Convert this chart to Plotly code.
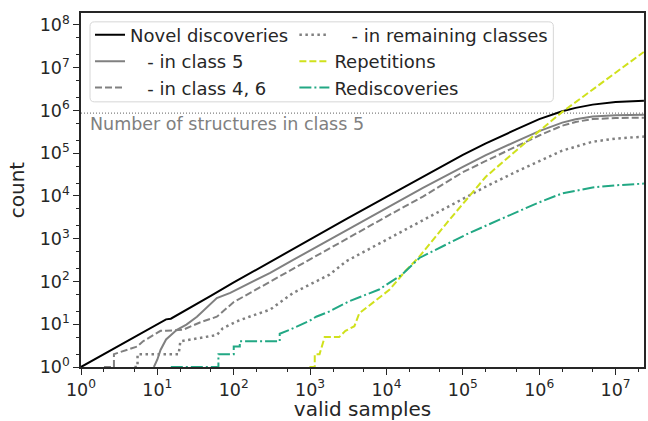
import math
import plotly.graph_objects as go

# ---------------- data ----------------
novel_x = [1, 2, 5, 10, 13, 15, 20, 50, 100, 300, 1000, 3000, 10000, 30000, 100000,
           200000, 300000, 500000, 1000000, 2000000, 3000000, 5000000, 10000000, 23500000]
novel_y = [1, 2, 5, 10, 13, 13.5, 18, 46, 95, 290, 960, 2900, 9500, 28500, 92000,
           170000, 240000, 360000, 630000, 960000, 1150000, 1370000, 1570000, 1700000]

c5_x = [9, 10, 11, 13, 18, 24, 33, 45, 60, 90, 160, 300, 600, 1000, 3000, 10000, 30000,
        100000, 200000, 500000, 1000000, 2000000, 3000000, 5000000, 10000000, 23500000]
c5_y = [1, 1.5, 2.5, 4.4, 7.4, 9.8, 15, 26, 41, 54, 91, 160, 320, 530, 1600, 5300, 15500,
        48000, 90000, 190000, 330000, 520000, 620000, 720000, 775000, 790000]

c46_x = [2, 2.7, 2.7, 5.4, 6.5, 8, 11, 13, 22, 36, 60, 100, 300, 1000, 3000, 10000, 30000,
         100000, 200000, 500000, 1000000, 2000000, 3000000, 5000000, 10000000, 23500000]
c46_y = [1, 1, 2, 3, 4, 5, 7, 7, 7.5, 11, 15, 33, 100, 330, 1000, 3300, 9700,
         36000, 66000, 145000, 260000, 440000, 540000, 630000, 665000, 680000]

rem_x = [5, 5.5, 5.5, 19, 20, 36, 60, 72, 110, 160, 300, 600, 1800, 3000, 10000, 30000,
         100000, 200000, 500000, 1000000, 2000000, 5000000, 10000000, 23500000]
rem_y = [1, 1, 2, 2, 4, 4.8, 5.6, 8.1, 11.7, 15, 22, 54, 145, 300, 950, 2700,
         8900, 16600, 37000, 66000, 115000, 186000, 220000, 245000]

rep_x = [980, 1150, 1150, 1330, 1550, 2400, 2900, 3800, 4400, 6600, 11000, 17800, 26900,
         72400, 200000, 724000, 1950000, 7240000, 23400000]
rep_y = [1, 1, 2, 2, 5, 5, 7, 9, 18, 31.6, 64.6, 178, 380,
         3310, 28200, 204000, 890000, 5000000, 23400000]

red_x = [15, 63, 63, 100, 100, 120, 120, 400, 400, 540, 980, 1200, 1800, 3200, 8000,
         16000, 27000, 120000, 540000, 1000000, 2000000, 5000000, 10000000, 23500000]
red_y = [1, 1, 2, 2, 3, 3, 4, 4, 6, 7.4, 12, 15, 20, 34, 65,
         145, 355, 1350, 4400, 7100, 11500, 15800, 17800, 19500]

class5_total = 870000

x_tickvals = [1, 10, 100, 1000, 10000, 100000, 1000000, 10000000]
x_ticktext = ["10<sup>%d</sup>" % i for i in range(8)]
y_tickvals = [10 ** i for i in range(9)]
y_ticktext = ["10<sup>%d</sup>" % i for i in range(9)]

GRAY = "#808080"
YEL = "#d0e11c"
GRN = "#22a884"
INK = "#262626"
NB = "\u00a0"

fig = go.Figure()

fig.add_trace(go.Scatter(x=[1, 23500000], y=[class5_total, class5_total], mode="lines",
                         line=dict(color=GRAY, width=1.2, dash="1px,2px"),
                         showlegend=False, hoverinfo="skip"))

# (name, x, y, line style, legend column)
series = [
    ("Novel discoveries", novel_x, novel_y, dict(color="black", width=2), "legend"),
    (NB * 3 + "- in class 5", c5_x, c5_y, dict(color=GRAY, width=2), "legend"),
    (NB * 3 + "- in class 4, 6", c46_x, c46_y, dict(color=GRAY, width=2, dash="7px,3px"),
     "legend"),
    (NB * 3 + "- in remaining classes", rem_x, rem_y,
     dict(color=GRAY, width=2.5, dash="2.5px,3.5px"), "legend2"),
    ("Repetitions", rep_x, rep_y, dict(color=YEL, width=2, dash="7px,3px"), "legend2"),
    ("Rediscoveries", red_x, red_y, dict(color=GRN, width=2, dash="12px,3px,2px,3px"),
     "legend2"),
]
for name, xs, ys, ln, leg in series:
    fig.add_trace(go.Scatter(x=xs, y=ys, mode="lines", name=name, line=ln, legend=leg))

fig.add_annotation(x=0.0, y=math.log10(class5_total), xref="x", yref="y", xanchor="left",
                   yanchor="top", text="Number of structures in class 5",
                   showarrow=False, font=dict(size=17.5, color=GRAY), xshift=7, yshift=1)

# legend frame (rounded box, like matplotlib's)
lx0, lx1, ly0, ly1 = 0.016, 0.839, 0.749, 0.975
rx, ry = 0.008, 0.013
frame_path = (f"M {lx0+rx},{ly0} L {lx1-rx},{ly0} Q {lx1},{ly0} {lx1},{ly0+ry} "
              f"L {lx1},{ly1-ry} Q {lx1},{ly1} {lx1-rx},{ly1} L {lx0+rx},{ly1} "
              f"Q {lx0},{ly1} {lx0},{ly1-ry} L {lx0},{ly0+ry} Q {lx0},{ly0} {lx0+rx},{ly0} Z")
fig.add_shape(type="path", path=frame_path, xref="paper", yref="paper",
              line=dict(color="#d6d6d6", width=1), fillcolor="rgba(255,255,255,0.8)",
              layer="above")

axis_common = dict(type="log", showline=True, linecolor=INK, linewidth=1.5,
                   mirror=True, ticks="outside", ticklen=6, tickwidth=1.3,
                   tickcolor=INK, showgrid=False, zeroline=False,
                   tickfont=dict(size=17.5, color=INK),
                   minor=dict(ticks="outside", ticklen=3.5, tickwidth=1,
                              tickcolor=INK, showgrid=False))

fig.update_xaxes(range=[0, 7.372], tickvals=x_tickvals, ticktext=x_ticktext,
                 title=dict(text="valid samples", font=dict(size=20, color=INK),
                            standoff=5), **axis_common)
fig.update_yaxes(range=[0, 8.28], tickvals=y_tickvals, ticktext=y_ticktext,
                 title=dict(text="count", font=dict(size=20, color=INK),
                            standoff=10), **axis_common)

legend_common = dict(orientation="v", yanchor="top", xanchor="left", y=0.99,
                     bgcolor="rgba(0,0,0,0)", borderwidth=0,
                     font=dict(size=18, color=INK), itemwidth=30, tracegroupgap=0)

fig.update_layout(
    width=648, height=421,
    margin=dict(l=81, r=2, t=13, b=54),
    plot_bgcolor="white", paper_bgcolor="white",
    font=dict(family="DejaVu Sans", color=INK),
    legend=dict(x=0.016, **legend_common),
    legend2=dict(x=0.379, **legend_common),
)

fig.write_html("out.html")
